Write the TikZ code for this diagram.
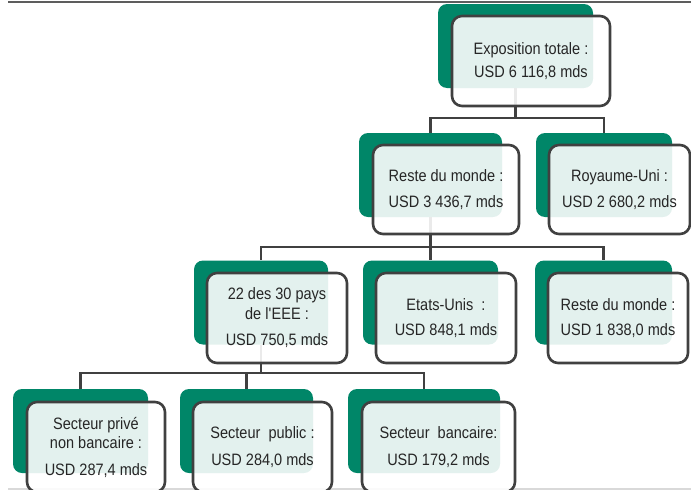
\documentclass[tikz,border=0pt]{standalone}
\usepackage{fontspec}
\setmainfont[FakeStretch=0.88]{Liberation Sans}
\usetikzlibrary{calc,positioning}
\definecolor{treeGreen}{RGB}{0,134,104}
\definecolor{lineGray}{RGB}{64,64,64}
\definecolor{textGray}{RGB}{38,38,38}
\definecolor{rulePale}{RGB}{217,217,217}

\tikzset{
  backbox/.style={rounded corners=9pt,fill=treeGreen,minimum height=84pt,inner sep=0pt},
  frontbox/.style={rounded corners=10pt,draw=lineGray,line width=2.6pt,fill=white,fill opacity=.89,text opacity=1,
    text=textGray,minimum height=90pt,align=center,inner sep=2pt,font=\fontsize{16.5}{19.5}\selectfont},
  link/.style={draw=lineGray,line width=2.4pt},
}

\begin{document}
\begin{tikzpicture}[x=1pt,y=-1pt]
\useasboundingbox (0,0) rectangle (691,490);
\clip (0,0) rectangle (691,490);
% page rules
\draw[lineGray!85,line width=1.6pt] (8,2) -- (691,2);
\draw[rulePale,line width=1.6pt] (8,489) -- (691,489);

% green backs
\node[backbox,minimum width=155pt] (tot-b) at (515.5,46) {};
\node[backbox,minimum width=143pt] (rdm-b) at (430.5,175) {};
\node[backbox,minimum width=136pt] (ruk-b) at (604,175) {};
\node[backbox,minimum width=134pt] (eee-b) at (261,302.5) {};
\node[backbox,minimum width=135pt] (usa-b) at (430.5,302.5) {};
\node[backbox,minimum width=137pt] (rst-b) at (603.5,302.5) {};
\node[backbox,minimum width=135pt] (prv-b) at (80.5,431) {};
\node[backbox,minimum width=133pt] (pub-b) at (246.5,431) {};
\node[backbox,minimum width=152pt] (bnk-b) at (424,431) {};

% connectors
\coordinate (bus1) at ($(tot-b.south |- 0,118)$);
\draw[link] (tot-b.south) -- (bus1) -| (rdm-b.north);
\draw[link] (bus1) -| (ruk-b.north);
\coordinate (bus2) at ($(rdm-b.south |- 0,247)$);
\draw[link] (rdm-b.south) -- (bus2) -| (eee-b.north);
\draw[link] (bus2) -- (usa-b.north);
\draw[link] (bus2) -| (rst-b.north);
\coordinate (bus3) at ($(eee-b.south |- 0,373)$);
\draw[link] (eee-b.south) -- (bus3) -| (prv-b.north);
\draw[link] (bus3) -| (pub-b.north);
\draw[link] (bus3) -| (bnk-b.north);

% text boxes
\node[frontbox,minimum width=158pt] (tot) at ($(tot-b)+(15.5,15)$) {Exposition totale :\\[3.5pt]USD 6 116,8 mds};
\node[frontbox,minimum width=146pt,minimum height=89pt] (rdm) at ($(rdm-b)+(15.5,14.5)$) {Reste du monde :\\[7pt]USD 3 436,7 mds};
\node[frontbox,minimum width=141pt,minimum height=89pt] (ruk) at ($(ruk-b)+(15.5,14.5)$) {Royaume-Uni :\\[7pt]USD 2 680,2 mds};
\node[frontbox,minimum width=140pt] (eee) at ($(eee-b)+(16,15.5)$) {22 des 30 pays\\de l\textquotesingle EEE :\\[7pt]USD 750,5 mds};
\node[frontbox,minimum width=140pt] (usa) at ($(usa-b)+(15.5,15.5)$) {Etats-Unis~ :\\[6pt]USD 848,1 mds};
\node[frontbox,minimum width=140pt] (rst) at ($(rst-b)+(14.5,15.5)$) {Reste du monde :\\[5.5pt]USD 1 838,0 mds};
\node[frontbox,minimum width=138pt] (prv) at ($(prv-b)+(15.5,16)$) {Secteur privé\\non bancaire :\\[7pt]USD 287,4 mds};
\node[frontbox,minimum width=139pt] (pub) at ($(pub-b)+(16,16)$) {Secteur~ public :\\[7pt]USD 284,0 mds};
\node[frontbox,minimum width=153pt] (bnk) at ($(bnk-b)+(14.5,16)$) {Secteur~ bancaire:\\[7pt]USD 179,2 mds};
\end{tikzpicture}
\end{document}
